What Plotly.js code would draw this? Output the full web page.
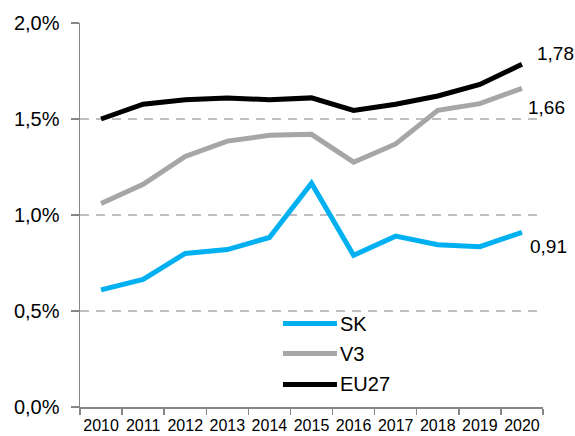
<!DOCTYPE html>
<html>
<head>
<meta charset="utf-8">
<script src="https://cdn.plot.ly/plotly-3.0.1.min.js"></script>
<style>
  html, body { margin: 0; padding: 0; background: #ffffff; }
  #chart { width: 575px; height: 436px; }
</style>
</head>
<body>
<div id="chart"></div>
<script>
// Data
const years = ["2010","2011","2012","2013","2014","2015","2016","2017","2018","2019","2020"];
const skValues   = [0.61, 0.665, 0.80, 0.82, 0.883, 1.165, 0.79, 0.89, 0.845, 0.835, 0.91];
const v3Values   = [1.06, 1.16, 1.305, 1.385, 1.415, 1.42, 1.275, 1.37, 1.545, 1.58, 1.66];
const eu27Values = [1.50, 1.577, 1.60, 1.61, 1.60, 1.61, 1.545, 1.577, 1.62, 1.68, 1.785];
const seriesNames = ["SK", "V3", "EU27"];
const endLabels = ["0,91", "1,66", "1,78"];
const yTickVals = [0, 0.5, 1.0, 1.5, 2.0];
const yTickText = ["0,0%", "0,5%", "1,0%", "1,5%", "2,0%"];

const FONT = '"Liberation Sans", Arial, sans-serif';
const colors = ["#00B0F0", "#A6A6A6", "#000000"];
const allValues = [skValues, v3Values, eu27Values];

const traces = allValues.map((vals, i) => ({
  type: "scatter",
  mode: "lines",
  x: years,
  y: vals,
  name: seriesNames[i],
  line: { color: colors[i], width: 5 },
  showlegend: false,
  hoverinfo: "skip"
}));

const labelShift = [{xs: 6, ys: -14}, {xs: 4, ys: -19}, {xs: 13, ys: 11}];
const annotations = allValues.map((vals, i) => ({
  x: years.length - 1,
  y: vals[vals.length - 1],
  xref: "x", yref: "y",
  text: endLabels[i],
  showarrow: false,
  xanchor: "left",
  yanchor: "middle",
  xshift: labelShift[i].xs,
  yshift: labelShift[i].ys,
  font: { family: FONT, size: 19, color: "#000000" }
}));

// manual legend
const legendY = [0.2173, 0.139, 0.0586];
const shapes = [];
seriesNames.forEach((n, i) => {
  shapes.push({
    type: "line", xref: "paper", yref: "paper",
    x0: 0.4384, x1: 0.555, y0: legendY[i], y1: legendY[i],
    line: { color: colors[i], width: 5 }
  });
  annotations.push({
    xref: "paper", yref: "paper",
    x: 0.557, y: legendY[i],
    text: n, showarrow: false,
    xanchor: "left", yanchor: "middle",
    font: { family: FONT, size: 20, color: "#000000" }
  });
});

const layout = {
  width: 575,
  height: 436,
  margin: { l: 80, r: 32, t: 23, b: 29 },
  paper_bgcolor: "#ffffff",
  plot_bgcolor: "#ffffff",
  showlegend: false,
  font: { family: FONT, color: "#000000" },
  xaxis: {
    type: "category",
    range: [-0.5, 10.5],
    tickson: "boundaries",
    ticks: "outside",
    ticklen: 6,
    tickwidth: 1.5,
    tickcolor: "#868686",
    showline: true,
    linecolor: "#868686",
    linewidth: 1.5,
    showgrid: false,
    zeroline: false,
    tickangle: 0,
    ticklabelstandoff: 3,
    tickfont: { family: FONT, size: 16, color: "#000000" },
    fixedrange: true
  },
  yaxis: {
    range: [0, 2.0],
    tickvals: yTickVals,
    ticktext: yTickText,
    ticks: "outside",
    ticklen: 8,
    tickwidth: 1.5,
    tickcolor: "#868686",
    showline: true,
    linecolor: "#868686",
    linewidth: 1.5,
    showgrid: true,
    gridcolor: "#BFBFBF",
    gridwidth: 1.5,
    griddash: "9px,7px",
    zeroline: false,
    ticklabelstandoff: 7,
    tickfont: { family: FONT, size: 20, color: "#000000" },
    fixedrange: true
  },
  shapes: shapes,
  annotations: annotations
};

Plotly.newPlot("chart", traces, layout, { displayModeBar: false, staticPlot: true });
</script>
</body>
</html>
